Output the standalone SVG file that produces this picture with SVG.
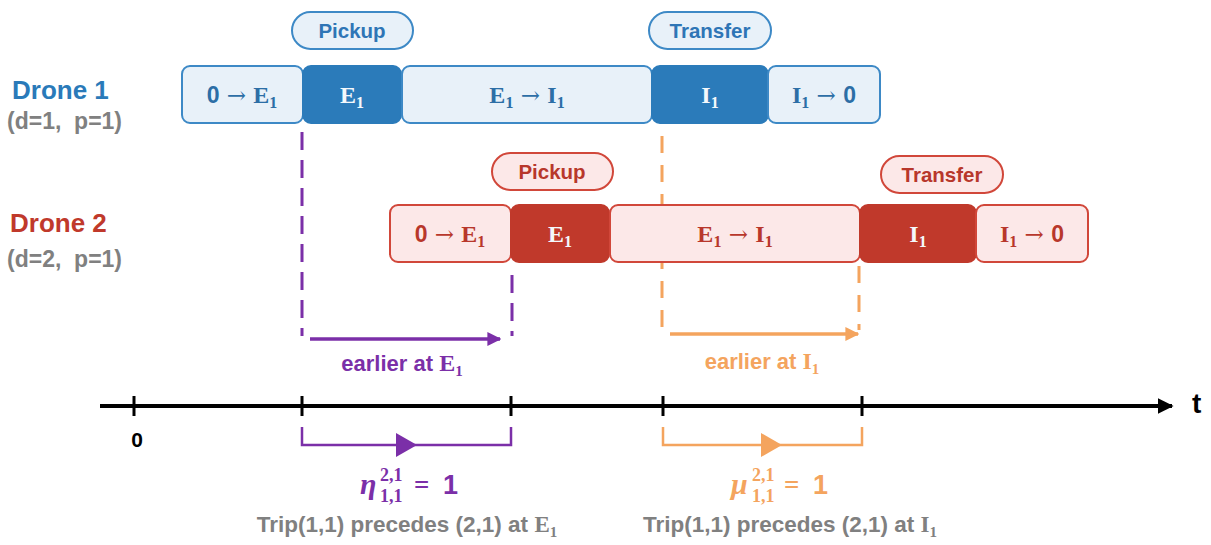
<svg xmlns="http://www.w3.org/2000/svg" width="1211" height="545" viewBox="0 0 1211 545">
<style>
  .sans{font-family:"Liberation Sans",Arial,sans-serif;font-weight:bold}
  .serif{font-family:"Liberation Serif","DejaVu Serif",serif;font-weight:bold}
  .lb{fill:#e8f1f9;stroke:#3d89c6;stroke-width:2}
  .db{fill:#2b7bba;stroke:#2b7bba;stroke-width:2}
  .lr{fill:#fce8e8;stroke:#d1473a;stroke-width:2}
  .dr{fill:#c0392b;stroke:#c0392b;stroke-width:2}
  .pb{fill:#e8f1f9;stroke:#3d89c6;stroke-width:2}
  .pr{fill:#fce8e8;stroke:#d1473a;stroke-width:2}
  .tb{fill:#2c6ea6}
  .tw{fill:#f4f8fc}
  .tr{fill:#b8372b}
  .bt{font-size:24px}
  .sub{font-size:16px}
  .zero{font-family:"Liberation Sans",Arial,sans-serif;font-weight:bold;font-size:23px}
  .arr{font-family:"DejaVu Serif",serif;font-weight:normal;font-size:23px}
  .pill{font-size:20.5px}
</style>
<defs>
  <marker id="ap" viewBox="0 0 10 10" refX="9" refY="5" markerWidth="4" markerHeight="4" orient="auto"><path d="M0,0 L10,5 L0,10 z" fill="#7b2fa8"/></marker>
  <marker id="ao" viewBox="0 0 10 10" refX="9" refY="5" markerWidth="4" markerHeight="4" orient="auto"><path d="M0,0 L10,5 L0,10 z" fill="#f4a45e"/></marker>
  <marker id="ak" viewBox="0 0 10 10" refX="9" refY="5" markerWidth="4" markerHeight="4" orient="auto"><path d="M0,0 L10,5 L0,10 z" fill="#000"/></marker>
</defs>

<!-- connectors (dashed guides, drawn behind boxes) -->
<g id="connectors">
  <line x1="302" y1="132" x2="302" y2="336" stroke="#7b2fa8" stroke-width="3" stroke-dasharray="18 10"/>
  <line x1="512" y1="275" x2="512" y2="336" stroke="#7b2fa8" stroke-width="3" stroke-dasharray="18 10"/>
  <line x1="662" y1="136" x2="662" y2="330" stroke="#f4a45e" stroke-width="3" stroke-dasharray="17 12"/>
  <line x1="859" y1="266" x2="859" y2="330" stroke="#f4a45e" stroke-width="3" stroke-dasharray="17 12"/>
  <line x1="310" y1="339" x2="500" y2="339" stroke="#7b2fa8" stroke-width="3.5" marker-end="url(#ap)"/>
  <line x1="670" y1="334" x2="858" y2="334" stroke="#f4a45e" stroke-width="3.5" marker-end="url(#ao)"/>
  <!-- axis -->
  <line x1="100" y1="406" x2="1172" y2="406" stroke="#000" stroke-width="4" marker-end="url(#ak)"/>
  <g stroke="#000" stroke-width="3">
    <line x1="134" y1="396" x2="134" y2="416"/>
    <line x1="302" y1="396" x2="302" y2="416"/>
    <line x1="511" y1="396" x2="511" y2="416"/>
    <line x1="663" y1="396" x2="663" y2="416"/>
    <line x1="862" y1="396" x2="862" y2="416"/>
  </g>
  <!-- brackets -->
  <path d="M302,427 V445 H511 V427" fill="none" stroke="#7b2fa8" stroke-width="2.5"/>
  <path d="M396,433 L417,445 L396,457 z" fill="#7b2fa8"/>
  <path d="M663,427 V445 H862 V427" fill="none" stroke="#f4a45e" stroke-width="2.5"/>
  <path d="M761,433 L782,445 L761,457 z" fill="#f4a45e"/>
</g>

<!-- Drone 1 -->
<g id="drone1-label">
  <text x="12" y="99" class="sans" font-size="26" fill="#2a7ab9">Drone 1</text>
  <text x="7" y="129" class="sans" font-size="23" fill="#808080" xml:space="preserve">(d=1,  p=1)</text>
</g>
<g id="d1-pickup">
  <rect x="292" y="12" width="121" height="37" rx="18.5" class="pb"/>
  <text x="352" y="38" class="sans pill" fill="#2e75b6" text-anchor="middle">Pickup</text>
</g>
<g id="d1-transfer">
  <rect x="649" y="12" width="122" height="37" rx="18.5" class="pb"/>
  <text x="710" y="38" class="sans pill" fill="#2e75b6" text-anchor="middle">Transfer</text>
</g>
<g id="d1-0E1">
  <rect x="182" y="66" width="121" height="57" rx="8" class="lb"/>
  <text x="242" y="103" class="serif bt tb" text-anchor="middle"><tspan class="zero">0</tspan><tspan class="arr"> → </tspan>E<tspan class="sub" dy="5">1</tspan></text>
</g>
<g id="d1-E1">
  <rect x="303" y="66" width="98" height="57" rx="8" class="db"/>
  <text x="352" y="103" class="serif bt tw" text-anchor="middle">E<tspan class="sub" dy="5">1</tspan></text>
</g>
<g id="d1-E1I1">
  <rect x="402" y="66" width="250" height="57" rx="8" class="lb"/>
  <text x="527" y="103" class="serif bt tb" text-anchor="middle">E<tspan class="sub" dy="5">1</tspan><tspan class="arr" dy="-5"> → </tspan>I<tspan class="sub" dy="5">1</tspan></text>
</g>
<g id="d1-I1">
  <rect x="652" y="66" width="116" height="57" rx="8" class="db"/>
  <text x="710" y="103" class="serif bt tw" text-anchor="middle">I<tspan class="sub" dy="5">1</tspan></text>
</g>
<g id="d1-I10">
  <rect x="768" y="66" width="112" height="57" rx="8" class="lb"/>
  <text x="824" y="103" class="serif bt tb" text-anchor="middle">I<tspan class="sub" dy="5">1</tspan><tspan class="arr" dy="-5"> → </tspan><tspan class="zero">0</tspan></text>
</g>

<!-- Drone 2 -->
<g id="drone2-label">
  <text x="10" y="232" class="sans" font-size="26" fill="#c0392b">Drone 2</text>
  <text x="7" y="267" class="sans" font-size="23" fill="#808080" xml:space="preserve">(d=2,  p=1)</text>
</g>
<g id="d2-pickup">
  <rect x="492" y="153" width="121" height="37" rx="18.5" class="pr"/>
  <text x="552" y="179" class="sans pill" fill="#b8372b" text-anchor="middle">Pickup</text>
</g>
<g id="d2-transfer">
  <rect x="881" y="156" width="122" height="37" rx="18.5" class="pr"/>
  <text x="942" y="182" class="sans pill" fill="#b8372b" text-anchor="middle">Transfer</text>
</g>
<g id="d2-0E1">
  <rect x="390" y="205" width="121" height="57" rx="8" class="lr"/>
  <text x="450" y="242" class="serif bt tr" text-anchor="middle"><tspan class="zero">0</tspan><tspan class="arr"> → </tspan>E<tspan class="sub" dy="5">1</tspan></text>
</g>
<g id="d2-E1">
  <rect x="511" y="205" width="98" height="57" rx="8" class="dr"/>
  <text x="560" y="242" class="serif bt tw" text-anchor="middle">E<tspan class="sub" dy="5">1</tspan></text>
</g>
<g id="d2-E1I1">
  <rect x="610" y="205" width="250" height="57" rx="8" class="lr"/>
  <text x="735" y="242" class="serif bt tr" text-anchor="middle">E<tspan class="sub" dy="5">1</tspan><tspan class="arr" dy="-5"> → </tspan>I<tspan class="sub" dy="5">1</tspan></text>
</g>
<g id="d2-I1">
  <rect x="860" y="205" width="116" height="57" rx="8" class="dr"/>
  <text x="918" y="242" class="serif bt tw" text-anchor="middle">I<tspan class="sub" dy="5">1</tspan></text>
</g>
<g id="d2-I10">
  <rect x="976" y="205" width="112" height="57" rx="8" class="lr"/>
  <text x="1032" y="242" class="serif bt tr" text-anchor="middle">I<tspan class="sub" dy="5">1</tspan><tspan class="arr" dy="-5"> → </tspan><tspan class="zero">0</tspan></text>
</g>

<!-- labels -->
<g id="labels">
  <text x="402" y="371" class="sans" font-size="22" fill="#7b2fa8" text-anchor="middle">earlier at <tspan class="serif" font-size="24">E</tspan><tspan class="serif" font-size="15" dy="5">1</tspan></text>
  <text x="762" y="369" class="sans" font-size="22" fill="#f4a45e" text-anchor="middle">earlier at <tspan class="serif" font-size="24">I</tspan><tspan class="serif" font-size="15" dy="5">1</tspan></text>
  <text x="1192" y="413" class="sans" font-size="28" fill="#000">t</text>
  <text x="137" y="447" class="sans" font-size="21" fill="#000" text-anchor="middle">0</text>

  <text class="serif" fill="#7b2fa8"><tspan x="360" y="494" font-size="30" font-style="italic">η</tspan><tspan x="380" y="481" font-size="18">2,1</tspan><tspan x="380" y="502" font-size="18">1,1</tspan><tspan x="414" y="494" font-size="27">=</tspan><tspan x="443" y="494" font-size="27" class="sans">1</tspan></text>
  <text class="serif" fill="#f4a45e"><tspan x="731" y="494" font-size="30" font-style="italic">μ</tspan><tspan x="752" y="481" font-size="18">2,1</tspan><tspan x="752" y="502" font-size="18">1,1</tspan><tspan x="784" y="494" font-size="27">=</tspan><tspan x="813" y="494" font-size="27" class="sans">1</tspan></text>

  <text x="407" y="532" class="sans" font-size="22.5" fill="#808080" text-anchor="middle">Trip(1,1) precedes (2,1) at <tspan class="serif" font-size="23" font-weight="normal">E</tspan><tspan class="serif" font-size="15" font-weight="normal" dy="5">1</tspan></text>
  <text x="790" y="532" class="sans" font-size="22.5" fill="#808080" text-anchor="middle">Trip(1,1) precedes (2,1) at <tspan class="serif" font-size="23" font-weight="normal">I</tspan><tspan class="serif" font-size="15" font-weight="normal" dy="5">1</tspan></text>
</g>
</svg>
